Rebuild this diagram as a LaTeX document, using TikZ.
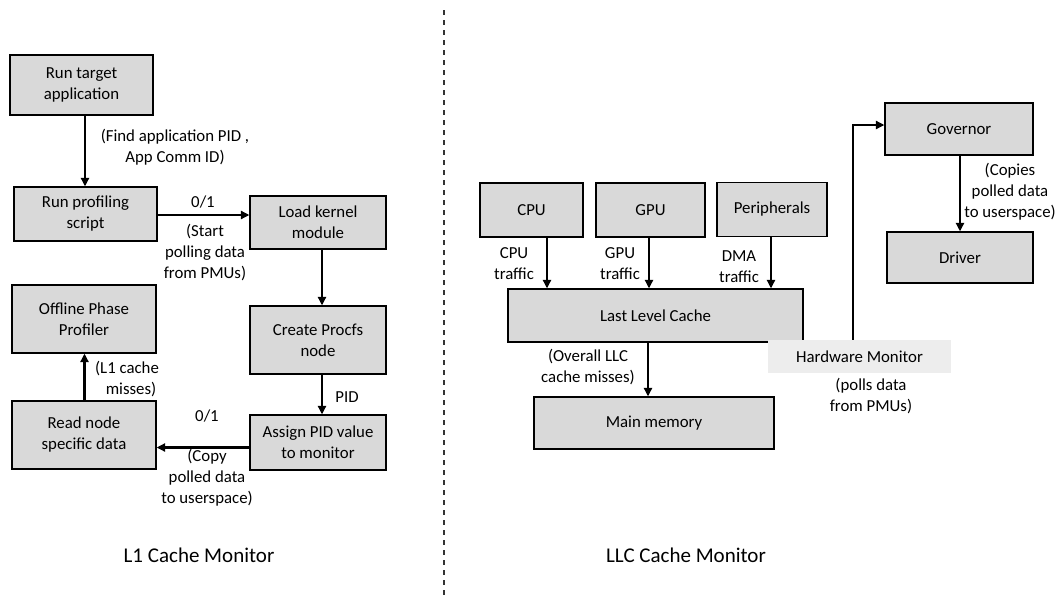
\documentclass[tikz,border=0pt]{standalone}
\usepackage{fontspec}
\setmainfont{Carlito}
\usetikzlibrary{arrows.meta}
\definecolor{boxgray}{HTML}{D9D9D9}
\definecolor{hwgray}{HTML}{EDEDED}
\begin{document}
\begin{tikzpicture}[x=1pt,y=-1pt,
  every node/.style={font=\fontsize{16.8pt}{21pt}\selectfont, align=center, inner sep=0pt},
  box/.style={draw=black, line width=1.2pt, fill=boxgray},
  arr/.style={line width=2.5pt, -{Triangle[length=8.5pt,width=8pt]}},
  caption/.style={font=\fontsize{21pt}{25pt}\selectfont}]
\useasboundingbox (0,0) rectangle (1063,600);

% ---------- L1 cache monitor ----------
\node[box, minimum width=143pt, minimum height=60pt] (run) at (81.5,85) {Run target\\application};
\node[box, minimum width=143pt, minimum height=54pt] (prof) at (85.5,214) {Run profiling\\script};
\node[box, minimum width=136pt, minimum height=53pt] (load) at (318,222.5) {Load kernel\\module};
\node[box, minimum width=136pt, minimum height=68pt] (procfs) at (318,340) {Create Procfs\\node};
\node[box, minimum width=136pt, minimum height=55pt] (assign) at (318,442.5) {Assign PID value\\to monitor};
\node[box, minimum width=144pt, minimum height=68pt] (read) at (84,435) {Read node\\specific data};
\node[box, minimum width=144pt, minimum height=68pt] (offline) at (84,319) {Offline Phase\\Profiler};

\draw[arr] ([xshift=3.5pt]run.south) -- ([xshift=-0.5pt]prof.north);
\draw[arr] ([yshift=-1pt]prof.east) -- ([yshift=-1pt]prof.east -| load.west);
\draw[arr] ([xshift=4pt]load.south) -- ([xshift=4pt]procfs.north);
\draw[arr] ([xshift=4pt]procfs.south) -- ([xshift=4pt]assign.north);
\draw[arr] ([yshift=-5pt]assign.west) -- ([yshift=-5pt]assign.west -| read.east);
\draw[arr] ([xshift=0.5pt]read.north) -- ([xshift=0.5pt]offline.south);

\node (l1) at (175,147) {(Find application PID ,\\App Comm ID)};
\node (l2) at (203,202) {0/1};
\node (l3) at (205,253) {(Start\\polling data\\from PMUs)};
\node (l4) at (347,397) {PID};
\node (l5) at (207,416) {0/1};
\node (l6) at (207,478) {(Copy\\polled data\\to userspace)};
\node (l7) at (127,379) {(L1 cache\\\hspace*{8pt}misses)};
\node[caption] (cap1) at (199,555) {L1 Cache Monitor};

% ---------- divider ----------
\coordinate (dtop) at (444,10);
\coordinate (dbot) at (444,596);
\draw[line width=1.3pt, black!80, dash pattern=on 5pt off 5pt] (dtop) -- (dbot);

% ---------- LLC cache monitor ----------
\node[box, minimum width=103pt, minimum height=54pt] (cpu) at (531.5,210) {CPU};
\node[box, minimum width=109pt, minimum height=54pt] (gpu) at (650.5,210) {GPU};
\node[box, minimum width=110pt, minimum height=54pt] (peri) at (772,209.5) {Peripherals};
\node[box, minimum width=295pt, minimum height=53pt] (llc) at (655.5,315.5) {Last Level Cache};
\node[box, minimum width=240pt, minimum height=52pt] (mem) at (654,423) {Main memory};
\node[fill=hwgray, minimum width=183pt, minimum height=33pt] (hw) at (859.5,356.5) {Hardware Monitor};
\node[box, minimum width=148pt, minimum height=52pt] (gov) at (959,129) {Governor};
\node[box, minimum width=146pt, minimum height=51pt] (drv) at (960,257.5) {Driver};

\draw[arr] ([xshift=15.5pt]cpu.south) -- ([xshift=15.5pt]cpu.south |- llc.north);
\draw[arr] ([xshift=-1.5pt]gpu.south) -- ([xshift=-1.5pt]gpu.south |- llc.north);
\draw[arr] ([xshift=-1pt]peri.south) -- ([xshift=-1pt]peri.south |- llc.north);
\draw[arr] ([xshift=-7.5pt]llc.south) -- ([xshift=-7.5pt]llc.south |- mem.north);
\draw[arr] ([xshift=-6.5pt]hw.north) |- ([yshift=4pt]gov.west);
\draw[arr] ([xshift=1pt]gov.south) -- ([xshift=1pt]gov.south |- drv.north);

\node (t1) at (514,264) {CPU\\traffic};
\node (t2) at (620,264) {GPU\\traffic};
\node (t3) at (739,267) {DMA\\traffic};
\node (t4) at (588,367) {(Overall LLC\\cache misses)};
\node (t5) at (871,396) {(polls data\\from PMUs)};
\node (t6) at (1010,192) {(Copies\\polled data\\to userspace)};
\node[caption] (cap2) at (686,555) {LLC Cache Monitor};
\end{tikzpicture}
\end{document}
